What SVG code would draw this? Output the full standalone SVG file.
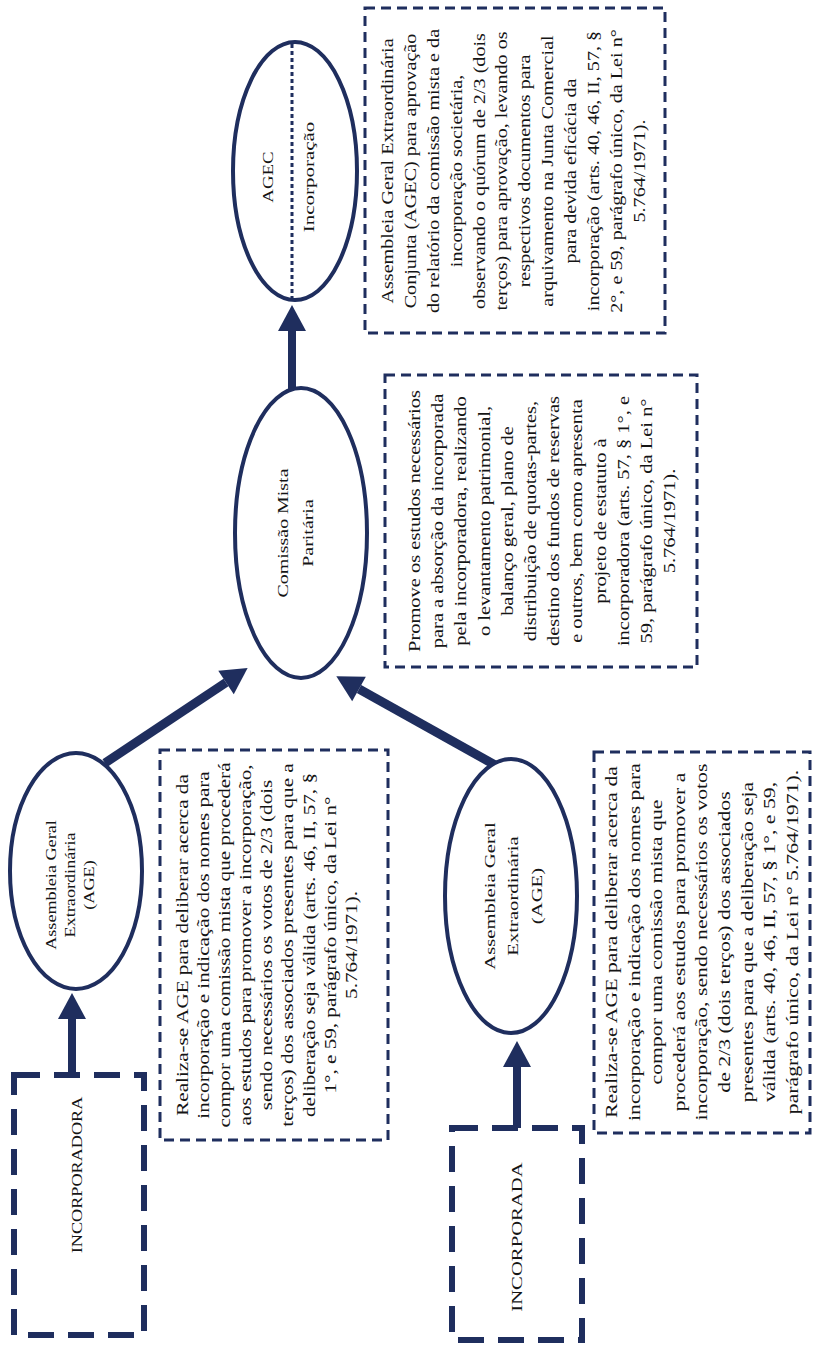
<svg xmlns="http://www.w3.org/2000/svg" width="813" height="1345" viewBox="0 0 813 1345">
<style>
.bg{fill:#ffffff}
.ell{fill:#ffffff;stroke:#1f2e5e;stroke-width:4}
.thick{fill:none;stroke:#1f2e5e;stroke-width:6;stroke-dasharray:26 14}
.thin{fill:none;stroke:#1f2e5e;stroke-width:3;stroke-dasharray:10 6}
.dot{stroke:#1f2e5e;stroke-width:3;stroke-dasharray:4 3}
.shaft{stroke:#1f2e5e;stroke-width:8;fill:none}
.t{font-family:"Liberation Serif","Times New Roman",serif;fill:#151515;text-anchor:middle}
.b{font-size:16px}
</style>
<defs>
<marker id="ah" markerUnits="userSpaceOnUse" markerWidth="30" markerHeight="30" refX="0" refY="14" orient="auto" overflow="visible">
<path d="M0,0 L26,14 L0,28 z" fill="#1f2e5e"/>
</marker>
</defs>
<rect class="bg" x="0" y="0" width="813" height="1345"/>

<g id="connectors">
<line class="shaft" x1="72" y1="1073" x2="72" y2="1019" marker-end="url(#ah)"/>
<line class="shaft" x1="517" y1="1128" x2="517" y2="1067" marker-end="url(#ah)"/>
<line class="shaft" style="stroke-width:9" x1="105" y1="763" x2="226" y2="682.5" marker-end="url(#ah)"/>
<line class="shaft" style="stroke-width:9" x1="495" y1="765" x2="359" y2="689" marker-end="url(#ah)"/>
<line class="shaft" x1="292" y1="390" x2="292" y2="331" marker-end="url(#ah)"/>
</g>

<g id="incorporadora">
<rect class="thick" x="14" y="1075" width="130" height="260"/>
<text class="t" style="font-size:14px" transform="translate(82,1175) rotate(-90) scale(1.3,1)">INCORPORADORA</text>
</g>

<g id="incorporada">
<rect class="thick" x="452" y="1128" width="130" height="212"/>
<text class="t" style="font-size:15px" transform="translate(522,1237) rotate(-90) scale(1.38,1)">INCORPORADA</text>
</g>

<g id="age-incorporadora">
<ellipse class="ell" cx="76" cy="871" rx="66" ry="118"/>
<g class="t" style="font-size:14px" transform="translate(56,885) rotate(-90) scale(1.3,1)">
<text x="0" y="0">Assembleia Geral</text>
<text x="0" y="19">Extraordinária</text>
<text x="0" y="38">(AGE)</text>
</g>
</g>

<g id="age-incorporada">
<ellipse class="ell" cx="511" cy="896" rx="66" ry="137"/>
<g class="t" style="font-size:15px" transform="translate(495,896) rotate(-90) scale(1.38,1)">
<text x="0" y="0">Assembleia Geral</text>
<text x="0" y="23.5">Extraordinária</text>
<text x="0" y="47">(AGE)</text>
</g>
</g>

<g id="comissao">
<ellipse class="ell" cx="301" cy="533" rx="66" ry="145"/>
<g class="t" style="font-size:15px" transform="translate(288,533) rotate(-90) scale(1.33,1)">
<text x="0" y="0">Comissão Mista</text>
<text x="0" y="25">Paritária</text>
</g>
</g>

<g id="agec">
<ellipse class="ell" cx="295" cy="171" rx="62" ry="129"/>
<line class="dot" x1="292" y1="44" x2="292" y2="298"/>
<text class="t" style="font-size:14px" transform="translate(273,177) rotate(-90) scale(1.35,1)">AGEC</text>
<text class="t" style="font-size:15px" transform="translate(314,177) rotate(-90) scale(1.4,1)">Incorporação</text>
</g>

<g id="nota-age-incorporadora">
<rect class="thin" x="160" y="750" width="228" height="390"/>
<g class="t b" transform="translate(188,945) rotate(-90) scale(1.32,1)">
<text x="0" y="0">Realiza-se AGE para deliberar acerca da</text>
<text x="0" y="21.1">incorporação e indicação dos nomes para</text>
<text x="0" y="42.2">compor uma comissão mista que procederá</text>
<text x="0" y="63.3">aos estudos para promover a incorporação,</text>
<text x="0" y="84.4">sendo necessários os votos de 2/3 (dois</text>
<text x="0" y="105.5">terços) dos associados presentes para que a</text>
<text x="0" y="126.6">deliberação seja válida (arts. 46, II, 57, §</text>
<text x="0" y="147.7">1°, e 59, parágrafo único, da Lei n°</text>
<text x="0" y="168.8">5.764/1971).</text>
</g>
</g>

<g id="nota-age-incorporada">
<rect class="thin" x="594" y="752" width="216" height="381"/>
<g class="t b" transform="translate(617,942) rotate(-90) scale(1.36,1)">
<text x="0" y="0">Realiza-se AGE para deliberar acerca da</text>
<text x="0" y="22.6">incorporação e indicação dos nomes para</text>
<text x="0" y="45.2">compor uma comissão mista que</text>
<text x="0" y="67.8">procederá aos estudos para promover a</text>
<text x="0" y="90.4">incorporação, sendo necessários os votos</text>
<text x="0" y="113">de 2/3 (dois terços) dos associados</text>
<text x="0" y="135.6">presentes para que a deliberação seja</text>
<text x="0" y="158.2">válida (arts. 40, 46, II, 57, § 1°, e 59,</text>
<text x="0" y="180.8">parágrafo único, da Lei n° 5.764/1971).</text>
</g>
</g>

<g id="nota-comissao">
<rect class="thin" x="385" y="375" width="312" height="292"/>
<g class="t b" transform="translate(420,521) rotate(-90) scale(1.28,1)">
<text x="0" y="0">Promove os estudos necessários</text>
<text x="0" y="23.2">para a absorção da incorporada</text>
<text x="0" y="46.4">pela incorporadora, realizando</text>
<text x="0" y="69.6">o levantamento patrimonial,</text>
<text x="0" y="92.8">balanço geral, plano de</text>
<text x="0" y="116">distribuição de quotas-partes,</text>
<text x="0" y="139.2">destino dos fundos de reservas</text>
<text x="0" y="162.4">e outros, bem como apresenta</text>
<text x="0" y="185.6">projeto de estatuto à</text>
<text x="0" y="208.8">incorporadora (arts. 57, § 1°, e</text>
<text x="0" y="232">59, parágrafo único, da Lei n°</text>
<text x="0" y="255.2">5.764/1971).</text>
</g>
</g>

<g id="nota-agec">
<rect class="thin" x="365" y="8" width="300" height="325"/>
<g class="t b" transform="translate(393,171) rotate(-90) scale(1.26,1)">
<text x="0" y="0">Assembleia Geral Extraordinária</text>
<text x="0" y="22.9">Conjunta (AGEC) para aprovação</text>
<text x="0" y="45.8">do relatório da comissão mista e da</text>
<text x="0" y="68.7">incorporação societária,</text>
<text x="0" y="91.6">observando o quórum de 2/3 (dois</text>
<text x="0" y="114.5">terços) para aprovação, levando os</text>
<text x="0" y="137.4">respectivos documentos para</text>
<text x="0" y="160.3">arquivamento na Junta Comercial</text>
<text x="0" y="183.2">para devida eficácia da</text>
<text x="0" y="206.1">incorporação (arts. 40, 46, II, 57, §</text>
<text x="0" y="229">2°, e 59, parágrafo único, da Lei n°</text>
<text x="0" y="251.9">5.764/1971).</text>
</g>
</g>
</svg>
